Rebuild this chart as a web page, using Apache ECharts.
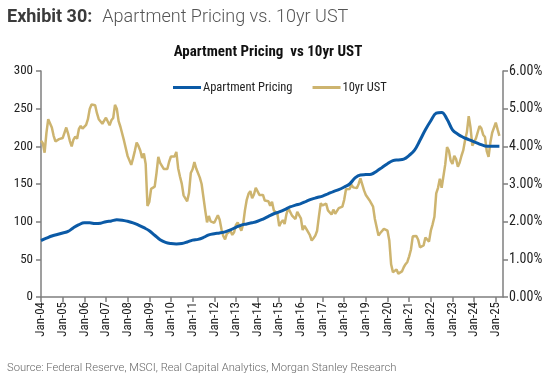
<!DOCTYPE html>
<html>
<head>
<meta charset="utf-8">
<script src="https://cdn.jsdelivr.net/npm/echarts@6/dist/echarts.min.js"></script>
<style>
  html, body { margin: 0; padding: 0; background: #fff; }
  #chart { width: 550px; height: 376px; }
</style>
</head>
<body>
<div id="chart"></div>
<script>
// --- data ---
const MONTHS = ['Jan','Feb','Mar','Apr','May','Jun','Jul','Aug','Sep','Oct','Nov','Dec'];
// monthly categories Jan-04 .. May-25 (axis runs a little past the last point)
const categories = [];
for (let y = 2004; y <= 2025; y++) {
  for (let m = 0; m < 12; m++) {
    if (y === 2025 && m > 4) break;
    categories.push(MONTHS[m] + '-' + String(y).slice(2));
  }
}

// 10yr UST, monthly, Jan-04 .. Mar-25 (%)
const ust = [
  4.15, 4.08, 3.83, 4.35, 4.72, 4.73, 4.50, 4.28, 4.13, 4.10, 4.19, 4.23,
  4.22, 4.17, 4.50, 4.34, 4.14, 4.00, 4.18, 4.26, 4.20, 4.46, 4.54, 4.47,
  4.42, 4.57, 4.72, 4.99, 5.11, 5.11, 5.09, 4.88, 4.72, 4.73, 4.60, 4.56,
  4.76, 4.72, 4.56, 4.69, 4.75, 5.10, 5.00, 4.67, 4.52, 4.53, 4.15, 4.10,
  3.74, 3.74, 3.51, 3.68, 3.88, 4.10, 4.01, 3.89, 3.69, 3.81, 3.53, 2.42,
  2.52, 2.87, 2.82, 2.93, 3.29, 3.72, 3.56, 3.59, 3.40, 3.39, 3.40, 3.59,
  3.73, 3.69, 3.73, 3.85, 3.42, 3.20, 3.01, 2.70, 2.65, 2.54, 2.76, 3.29,
  3.39, 3.58, 3.41, 3.46, 3.17, 3.00, 3.00, 2.30, 1.98, 2.15, 2.01, 1.98,
  1.97, 1.97, 2.17, 2.05, 1.80, 1.62, 1.53, 1.68, 1.72, 1.75, 1.65, 1.72,
  1.91, 1.98, 1.96, 1.76, 1.93, 2.30, 2.58, 2.74, 2.81, 2.62, 2.72, 2.90,
  2.86, 2.71, 2.72, 2.71, 2.56, 2.60, 2.54, 2.42, 2.53, 2.30, 2.33, 2.21,
  1.88, 1.98, 2.04, 1.94, 2.20, 2.36, 2.32, 2.17, 2.17, 2.07, 2.26, 2.24,
  2.09, 1.78, 1.89, 1.81, 1.81, 1.64, 1.50, 1.56, 1.63, 1.76, 2.14, 2.49,
  2.43, 2.42, 2.48, 2.30, 2.30, 2.19, 2.32, 2.21, 2.20, 2.36, 2.35, 2.40,
  2.58, 2.86, 2.84, 2.87, 2.98, 2.91, 2.89, 2.89, 3.00, 3.15, 3.12, 2.83,
  2.71, 2.68, 2.57, 2.53, 2.40, 2.07, 2.06, 1.63, 1.70, 1.71, 1.81, 1.86,
  1.76, 1.50, 0.87, 0.66, 0.67, 0.73, 0.62, 0.65, 0.68, 0.79, 0.87, 0.93,
  1.08, 1.26, 1.61, 1.64, 1.62, 1.52, 1.32, 1.28, 1.37, 1.58, 1.56, 1.47,
  1.76, 1.93, 2.13, 2.75, 2.90, 3.14, 2.90, 2.90, 3.52, 3.98, 3.89, 3.62,
  3.53, 3.75, 3.66, 3.46, 3.57, 3.75, 3.90, 4.17, 4.38, 4.80, 4.50, 4.02,
  4.06, 4.21, 4.21, 4.54, 4.48, 4.31, 4.25, 3.87, 3.72, 4.10, 4.36, 4.39,
  4.63, 4.45, 4.28
];

// Apartment pricing index, quarterly (Jan/Apr/Jul/Oct) from Jan-04 to Jan-25
const aptQuarterly = [
  75, 78, 81, 83,
  85, 87, 92, 96,
  98.5, 98.5, 97.5, 98,
  100, 101, 102.5, 102,
  100.5, 98.5, 95.5, 92,
  88, 82, 76, 72.5,
  71, 70.5, 71, 73,
  75.5, 76.5, 79, 82.5,
  84, 85, 86.5, 89,
  92.5, 95.5, 97, 98.5,
  100.5, 103.5, 107, 110.5,
  113, 116, 119.5, 122,
  124, 127, 130, 132,
  134, 137, 140, 142.5,
  146, 150, 158, 162,
  162.5, 163, 167, 172,
  177, 181, 182, 183,
  188, 195, 208, 222,
  234, 244, 245, 236,
  222, 216, 212, 209,
  206, 203, 200.5, 200,
  200
];
const aptLast = ['Mar-25', 200];

const aptData = aptQuarterly.map((v, i) => [categories[i * 3], v]).concat([aptLast]);

// --- style ---
const BLUE = '#0b5aa6';
const GOLD = '#cdb46f';
const NARROW = '"Liberation Sans Narrow", "Roboto Condensed", "Roboto", sans-serif';

const chart = echarts.init(document.getElementById('chart'));

const axisLineStyle = { color: '#7f7f7f', width: 1.5 };

chart.setOption({
  animation: false,
  backgroundColor: '#fff',
  title: [
    {
      text: '{b|Exhibit 30:}  {l|Apartment Pricing vs. 10yr UST}',
      left: 2,
      top: 3,
      textStyle: {
        rich: {
          b: { fontFamily: 'Roboto', fontWeight: 'bold', fontSize: 18, color: '#3b3b3b' },
          l: { fontFamily: 'Roboto', fontWeight: 300, fontSize: 18, color: '#555' }
        }
      }
    },
    {
      text: 'Apartment Pricing  vs 10yr UST',
      left: 263,
      textAlign: 'center',
      top: 40,
      textStyle: { fontFamily: NARROW, fontWeight: 'bold', fontSize: 15, color: '#111' }
    },
    {
      text: 'Source: Federal Reserve, MSCI, Real Capital Analytics, Morgan Stanley Research',
      left: 2,
      top: 358,
      textStyle: { fontFamily: 'Roboto', fontWeight: 300, fontSize: 11.2, color: '#666' }
    }
  ],
  legend: {
    top: 76,
    left: 168,
    itemWidth: 28,
    itemHeight: 3,
    itemGap: 20,
    icon: 'rect',
    textStyle: { fontFamily: NARROW, fontSize: 12.5, color: '#222', padding: [0, 0, 0, -3] },
    data: ['Apartment Pricing', '10yr UST']
  },
  grid: { left: 41, right: 47, top: 71, bottom: 79 },
  xAxis: {
    type: 'category',
    data: categories,
    boundaryGap: false,
    axisLine: { lineStyle: axisLineStyle },
    axisTick: { interval: (i) => i % 12 === 0, length: 5, lineStyle: axisLineStyle },
    axisLabel: {
      interval: (i) => i % 12 === 0,
      rotate: 90,
      fontFamily: NARROW,
      fontSize: 13,
      color: '#222',
      margin: 5
    }
  },
  yAxis: [
    {
      type: 'value',
      min: 0,
      max: 300,
      interval: 50,
      splitLine: { show: false },
      axisLine: { show: true, lineStyle: axisLineStyle },
      axisTick: { show: true, length: 5, lineStyle: axisLineStyle },
      axisLabel: { fontFamily: NARROW, fontSize: 13, color: '#222', margin: 8 }
    },
    {
      type: 'value',
      min: 0,
      max: 6,
      interval: 1,
      position: 'right',
      splitLine: { show: false },
      axisLine: { show: true, lineStyle: axisLineStyle },
      axisTick: { show: true, length: 5, lineStyle: axisLineStyle },
      axisLabel: {
        fontFamily: NARROW,
        fontSize: 14,
        color: '#222',
        margin: 6,
        formatter: (v) => v.toFixed(2) + '%'
      }
    }
  ],
  series: [
    {
      name: 'Apartment Pricing',
      type: 'line',
      yAxisIndex: 0,
      data: aptData,
      smooth: 0.4,
      showSymbol: false,
      z: 3,
      itemStyle: { color: BLUE },
      lineStyle: { color: BLUE, width: 3 }
    },
    {
      name: '10yr UST',
      type: 'line',
      yAxisIndex: 1,
      data: ust,
      showSymbol: false,
      z: 2,
      itemStyle: { color: GOLD },
      lineStyle: { color: GOLD, width: 2.5 }
    }
  ]
});
</script>
</body>
</html>
